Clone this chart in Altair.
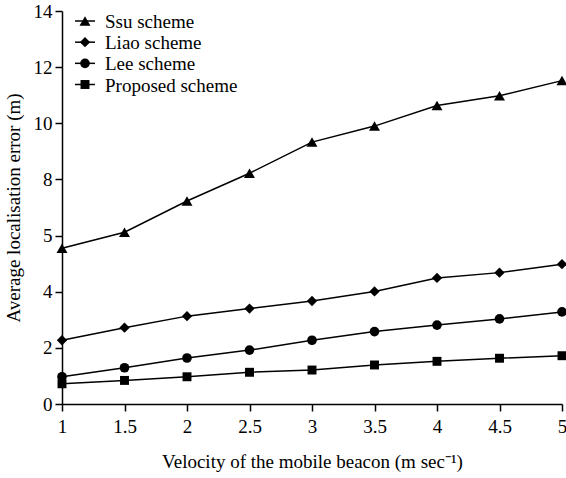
import altair as alt
import pandas as pd

# Mobile-beacon velocity (m/s) and the average localisation error of each scheme (m)
velocity = [1, 1.5, 2, 2.5, 3, 3.5, 4, 4.5, 5]
ssu = [5.55, 6.12, 7.23, 8.22, 9.33, 9.90, 10.63, 10.98, 11.52]
liao = [2.27, 2.72, 3.13, 3.40, 3.67, 4.01, 4.49, 4.68, 4.98]
lee = [0.97, 1.29, 1.64, 1.92, 2.27, 2.58, 2.81, 3.03, 3.28]
proposed = [0.72, 0.84, 0.97, 1.13, 1.21, 1.39, 1.52, 1.63, 1.72]

series_names = ["Ssu scheme", "Liao scheme", "Lee scheme", "Proposed scheme"]
series_values = [ssu, liao, lee, proposed]
marker_shapes = ["triangle-up", "diamond", "circle", "square"]
marker_sizes = [120, 80, 95, 95]

x_ticks = [1, 1.5, 2, 2.5, 3, 3.5, 4, 4.5, 5]
y_ticks = [0, 2, 4, 6, 8, 10, 12, 14]

FONT = "Liberation Serif"

rows = []
for name, values in zip(series_names, series_values):
    for v, e in zip(velocity, values):
        rows.append({"series": name, "velocity": v, "error": e})
df = pd.DataFrame(rows)

legend_df = pd.DataFrame({"series": series_names, "rank": list(range(len(series_names)))})

x_enc = alt.X(
    "velocity:Q",
    scale=alt.Scale(domain=[1, 5], nice=False, zero=False),
    axis=alt.Axis(
        values=x_ticks,
        title="Velocity of the mobile beacon (m sec\u207b\u00b9)",
        labelExpr="format(datum.value, '')",
    ),
)
y_enc = alt.Y(
    "error:Q",
    scale=alt.Scale(domain=[0, 14], nice=False),
    axis=alt.Axis(
        values=y_ticks,
        title="Average localisation error (m)",
        labelExpr="datum.value == 6 ? '5' : datum.label",
    ),
)

shape_scale = alt.Scale(domain=series_names, range=marker_shapes)
size_scale = alt.Scale(domain=series_names, range=marker_sizes)

lines = alt.Chart(df).mark_line(color="black", strokeWidth=1.5).encode(
    x=x_enc, y=y_enc, detail="series:N"
)

points = alt.Chart(df).mark_point(filled=True, color="black", opacity=1).encode(
    x=x_enc,
    y=y_enc,
    shape=alt.Shape("series:N", scale=shape_scale, legend=None),
    size=alt.Size("series:N", scale=size_scale, legend=None),
)

main = alt.layer(lines, points)

# Hand-drawn key in the upper-left corner: a short line, the marker, then the name
key_y = alt.Y(
    "rank:Q",
    scale=alt.Scale(domain=[0, 3], range=[10, 73.5], zero=False, nice=False),
    axis=None,
)
key_lines = alt.Chart(legend_df).mark_rule(color="black", strokeWidth=1.5).encode(
    y=key_y, x=alt.value(13), x2=alt.value(33)
)
key_points = alt.Chart(legend_df).mark_point(filled=True, color="black", opacity=1).encode(
    y=key_y,
    x=alt.value(23),
    shape=alt.Shape("series:N", scale=shape_scale, legend=None),
    size=alt.Size("series:N", scale=size_scale, legend=None),
)
key_text = alt.Chart(legend_df).mark_text(
    align="left", baseline="middle", font=FONT, fontSize=19, color="black", dy=1
).encode(y=key_y, x=alt.value(43), text="series:N")

key = alt.layer(key_lines, key_points, key_text)

chart = (
    alt.layer(main, key)
    .resolve_scale(y="independent")
    .properties(
        width=500,
        height=393,
        autosize=alt.AutoSizeParams(type="none"),
        padding={"left": 62, "top": 11, "right": 4, "bottom": 74},
        background="white",
    )
    .configure_view(stroke=None)
    .configure_axis(
        domainColor="black",
        domainWidth=1.5,
        tickColor="black",
        tickWidth=1.5,
        tickSize=7,
        grid=False,
        labelFont=FONT,
        labelFontSize=19,
        labelColor="black",
        titleFont=FONT,
        titleFontSize=19,
        titleFontWeight="normal",
        titleColor="black",
    )
    .configure_axisX(labelPadding=6, titlePadding=16, labelFlush=False)
    .configure_axisY(labelPadding=3, titlePadding=10)
)

chart.save("out.html", embed_options={"renderer": "svg", "actions": False})
